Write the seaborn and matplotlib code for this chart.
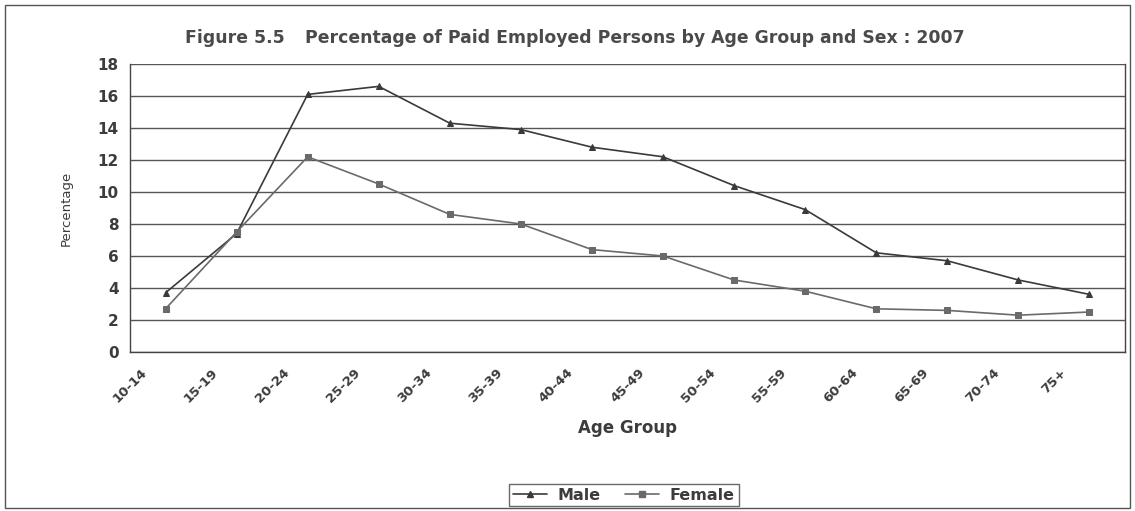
import numpy as np
import pandas as pd
import matplotlib
matplotlib.use("Agg")
import matplotlib.pyplot as plt
import seaborn as sns
from matplotlib.patches import Rectangle

# Data
age_groups = ["10-14", "15-19", "20-24", "25-29", "30-34", "35-39", "40-44",
              "45-49", "50-54", "55-59", "60-64", "65-69", "70-74", "75+"]
male = [3.7, 7.4, 16.1, 16.6, 14.3, 13.9, 12.8, 12.2, 10.4, 8.9, 6.2, 5.7, 4.5, 3.6]
female = [2.7, 7.5, 12.2, 10.5, 8.6, 8.0, 6.4, 6.0, 4.5, 3.8, 2.7, 2.6, 2.3, 2.5]

n = len(age_groups)
pos = np.arange(n) + 0.5  # points sit between the tick marks, as in the original

df = pd.concat([
    pd.DataFrame({"pos": pos, "pct": male, "Sex": "Male"}),
    pd.DataFrame({"pos": pos, "pct": female, "Sex": "Female"}),
])

sns.set_style("white")
plt.rcParams["font.family"] = ["DejaVu Sans"]
txt = "#3c3c3c"

fig = plt.figure(figsize=(11.35, 5.11), dpi=100)
ax = fig.add_axes([130 / 1135, 1 - 352 / 511, 995 / 1135, 288 / 511])

sns.lineplot(data=df, x="pos", y="pct", hue="Sex", style="Sex",
             palette={"Male": "#3a3a3a", "Female": "#6a6a6a"},
             markers={"Male": "^", "Female": "s"},
             dashes=False, markersize=5, linewidth=1.2,
             markeredgecolor=None, ax=ax, legend=False)

ax.set_xlim(0, n)
ax.set_ylim(0, 18)
ax.set_yticks(range(0, 19, 2))
ax.set_yticklabels([str(v) for v in range(0, 19, 2)], fontsize=11, fontweight="bold", color=txt)
ax.set_xticks(range(n + 1))
ax.set_xticklabels(age_groups + [""], rotation=45, ha="center", va="top",
                   fontsize=9.5, fontweight="bold", color=txt)
ax.tick_params(axis="both", direction="out", length=5, width=1, color="#444444", pad=3)
ax.tick_params(axis="x", pad=5)

ax.grid(axis="y", color="#555555", linewidth=1.0)
ax.set_axisbelow(True)
for side in ["left", "bottom", "right"]:
    ax.spines[side].set_color("#444444")
    ax.spines[side].set_linewidth(1.0)
ax.spines["top"].set_visible(False)

ax.set_xlabel("Age Group", fontsize=12, fontweight="bold", color=txt, labelpad=10)
ax.set_ylabel("Percentage", fontsize=9.5, color=txt, labelpad=18)

ty = 1 - 38 / 511
fig.text(185 / 1135, ty, "Figure 5.5", ha="left", va="center",
         fontsize=12.4, fontweight="bold", color="#4a4a4a")
fig.text(305 / 1135, ty, "Percentage of Paid Employed Persons by Age Group and Sex : 2007",
         ha="left", va="center", fontsize=12.4, fontweight="bold", color="#4a4a4a")

# outer chart frame
fig.patches.append(Rectangle((5 / 1135, 3 / 511), 1125 / 1135, 503 / 511,
                             transform=fig.transFigure, fill=False,
                             edgecolor="#555555", linewidth=1.0))

handles = [
    plt.Line2D([], [], color="#3a3a3a", marker="^", markersize=5, linewidth=1.2),
    plt.Line2D([], [], color="#6a6a6a", marker="s", markersize=4, linewidth=1.2),
]
leg = fig.legend(handles, ["Male", "Female"], loc="center",
                 bbox_to_anchor=(624 / 1135, 1 - 495 / 511), ncol=2,
                 frameon=True, fancybox=False, edgecolor="#444444",
                 prop={"weight": "bold", "size": 11.5}, handlelength=2.1,
                 handletextpad=0.7, columnspacing=1.5, borderpad=0.25)
leg.get_frame().set_linewidth(1.0)
for t in leg.get_texts():
    t.set_color(txt)

fig.savefig("out.png", dpi=100)
